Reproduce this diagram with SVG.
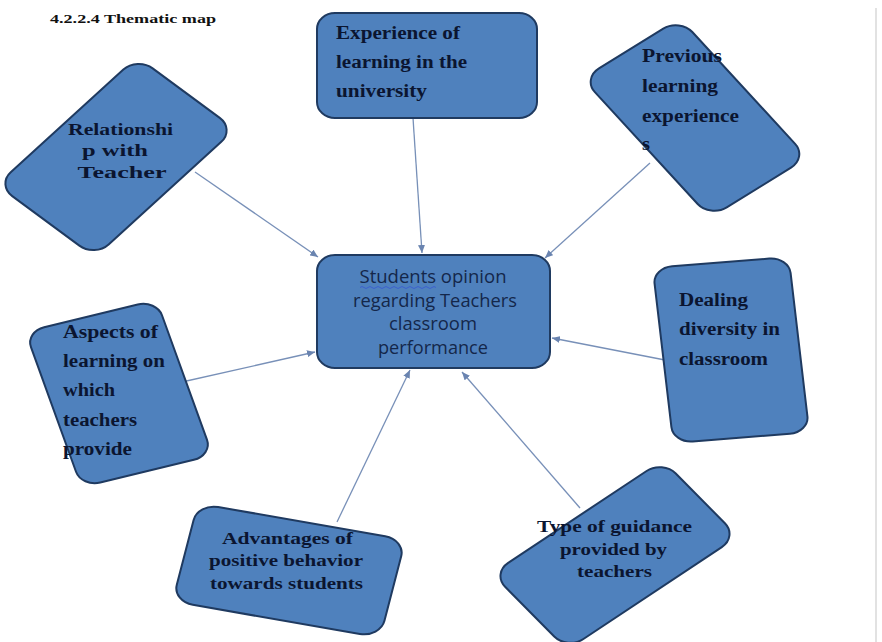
<svg xmlns="http://www.w3.org/2000/svg" width="882" height="642" viewBox="0 0 882 642">
<style>
.box{fill:#4f81bd;stroke:#1f3a60;stroke-width:2;}
.lbl{font-family:"Liberation Serif","Times New Roman",serif;font-weight:bold;font-size:18px;fill:#0b1530;}
.mid{text-anchor:middle;}
.sm{font-size:16.5px;}
.ctr{font-family:"Open Sans","Liberation Sans",sans-serif;font-size:18.5px;fill:#14274a;text-anchor:middle;}
.conn{stroke:#7890b8;stroke-width:1.3;fill:none;marker-end:url(#arr);}
.title{font-family:"Liberation Serif","Times New Roman",serif;font-weight:bold;font-size:13.5px;fill:#111;}
</style>
<defs>
<marker id="arr" viewBox="0 0 8 7" refX="8" refY="3.5" markerWidth="8" markerHeight="7" orient="auto" markerUnits="userSpaceOnUse">
<path d="M0,0 L8,3.5 L0,7 z" fill="#6a84b0"/>
</marker>
</defs>
<rect width="882" height="642" fill="#ffffff"/>
<line x1="876" y1="8" x2="876" y2="642" stroke="#e2e2e2" stroke-width="2"/>
<text class="title" x="50" y="23" textLength="166" lengthAdjust="spacingAndGlyphs">4.2.2.4 Thematic map</text>

<g id="connectors">
<line class="conn" x1="413" y1="118" x2="422" y2="253"/>
<line class="conn" x1="195" y1="172" x2="318" y2="257"/>
<line class="conn" x1="650" y1="163" x2="545" y2="258"/>
<line class="conn" x1="665" y1="360" x2="552" y2="338"/>
<line class="conn" x1="182" y1="382" x2="315" y2="352"/>
<line class="conn" x1="337" y1="522" x2="410" y2="370"/>
<line class="conn" x1="580" y1="508" x2="462" y2="372"/>
</g>

<g id="center">
<rect class="box" x="317" y="255" width="233" height="113" rx="18" ry="16"/>
<text class="ctr" x="433" y="283" textLength="147" lengthAdjust="spacingAndGlyphs">Students opinion</text>
<path d="M360,287.5 q2,-2 4,0 t4,0 t4,0 t4,0 t4,0 t4,0 t4,0 t4,0 t4,0 t4,0 t4,0 t4,0 t4,0 t4,0 t4,0 t4,0 t4,0 t4,0 t4,0" fill="none" stroke="#3a5cd0" stroke-width="0.9"/>
<text class="ctr" x="435" y="307" textLength="164" lengthAdjust="spacingAndGlyphs">regarding Teachers</text>
<text class="ctr" x="433" y="330" textLength="88" lengthAdjust="spacingAndGlyphs">classroom</text>
<text class="ctr" x="433" y="354" textLength="110" lengthAdjust="spacingAndGlyphs">performance</text>
</g>

<g id="experience">
<rect class="box" x="317" y="13" width="220" height="105" rx="18" ry="16"/>
<text class="lbl" x="336" y="39" textLength="124" lengthAdjust="spacingAndGlyphs">Experience of</text>
<text class="lbl" x="336" y="68" textLength="131" lengthAdjust="spacingAndGlyphs">learning in the</text>
<text class="lbl" x="336" y="97" textLength="91" lengthAdjust="spacingAndGlyphs">university</text>
</g>

<g id="relationship">
<rect class="box" transform="translate(116,157) scale(1.22,1) rotate(-48)" x="-86" y="-54" width="172" height="108" rx="17" vector-effect="non-scaling-stroke"/>
<text class="lbl sm mid" x="120.5" y="135" textLength="105" lengthAdjust="spacingAndGlyphs">Relationshi</text>
<text class="lbl sm mid" x="115" y="156" textLength="66" lengthAdjust="spacingAndGlyphs">p with</text>
<text class="lbl sm mid" x="122" y="178" textLength="89" lengthAdjust="spacingAndGlyphs">Teacher</text>
</g>

<g id="previous">
<rect class="box" transform="translate(695,118) scale(1.22,1) rotate(53)" x="-87" y="-50" width="174" height="100" rx="17" vector-effect="non-scaling-stroke"/>
<text class="lbl" x="642" y="62" textLength="80" lengthAdjust="spacingAndGlyphs">Previous</text>
<text class="lbl" x="642" y="92" textLength="76" lengthAdjust="spacingAndGlyphs">learning</text>
<text class="lbl" x="642" y="122" textLength="97" lengthAdjust="spacingAndGlyphs">experience</text>
<text class="lbl" x="642" y="150" textLength="8" lengthAdjust="spacingAndGlyphs">s</text>
</g>

<g id="dealing">
<rect class="box" transform="translate(731,350) scale(1.22,1) rotate(-5.5)" x="-56" y="-88" width="112" height="176" rx="16" vector-effect="non-scaling-stroke"/>
<text class="lbl" x="679" y="306" textLength="69" lengthAdjust="spacingAndGlyphs">Dealing</text>
<text class="lbl" x="679" y="335" textLength="101" lengthAdjust="spacingAndGlyphs">diversity in</text>
<text class="lbl" x="679" y="365" textLength="89" lengthAdjust="spacingAndGlyphs">classroom</text>
</g>

<g id="aspects">
<rect class="box" transform="translate(119,393.5) scale(1.22,1) rotate(-16.5)" x="-56" y="-81" width="112" height="162" rx="16" vector-effect="non-scaling-stroke"/>
<text class="lbl" x="63" y="338" textLength="95" lengthAdjust="spacingAndGlyphs">Aspects of</text>
<text class="lbl" x="63" y="367" textLength="102" lengthAdjust="spacingAndGlyphs">learning on</text>
<text class="lbl" x="63" y="396" textLength="52" lengthAdjust="spacingAndGlyphs">which</text>
<text class="lbl" x="63" y="426" textLength="74" lengthAdjust="spacingAndGlyphs">teachers</text>
<text class="lbl" x="63" y="455" textLength="69" lengthAdjust="spacingAndGlyphs">provide</text>
</g>

<g id="advantages">
<rect class="box" transform="translate(289,570.5) scale(1.22,1) rotate(12)" x="-87" y="-50" width="174" height="100" rx="17" vector-effect="non-scaling-stroke"/>
<text class="lbl sm mid" x="287.5" y="544" textLength="131" lengthAdjust="spacingAndGlyphs">Advantages of</text>
<text class="lbl sm mid" x="286" y="566" textLength="154" lengthAdjust="spacingAndGlyphs">positive behavior</text>
<text class="lbl sm mid" x="286.5" y="589" textLength="153" lengthAdjust="spacingAndGlyphs">towards students</text>
</g>

<g id="guidance">
<rect class="box" transform="translate(615,555) scale(1.22,1) rotate(-39)" x="-90" y="-49" width="180" height="98" rx="17" vector-effect="non-scaling-stroke"/>
<text class="lbl sm mid" x="614.5" y="532" textLength="155" lengthAdjust="spacingAndGlyphs">Type of guidance</text>
<text class="lbl sm mid" x="613.5" y="555" textLength="107" lengthAdjust="spacingAndGlyphs">provided by</text>
<text class="lbl sm mid" x="614.5" y="577" textLength="75" lengthAdjust="spacingAndGlyphs">teachers</text>
</g>
</svg>
